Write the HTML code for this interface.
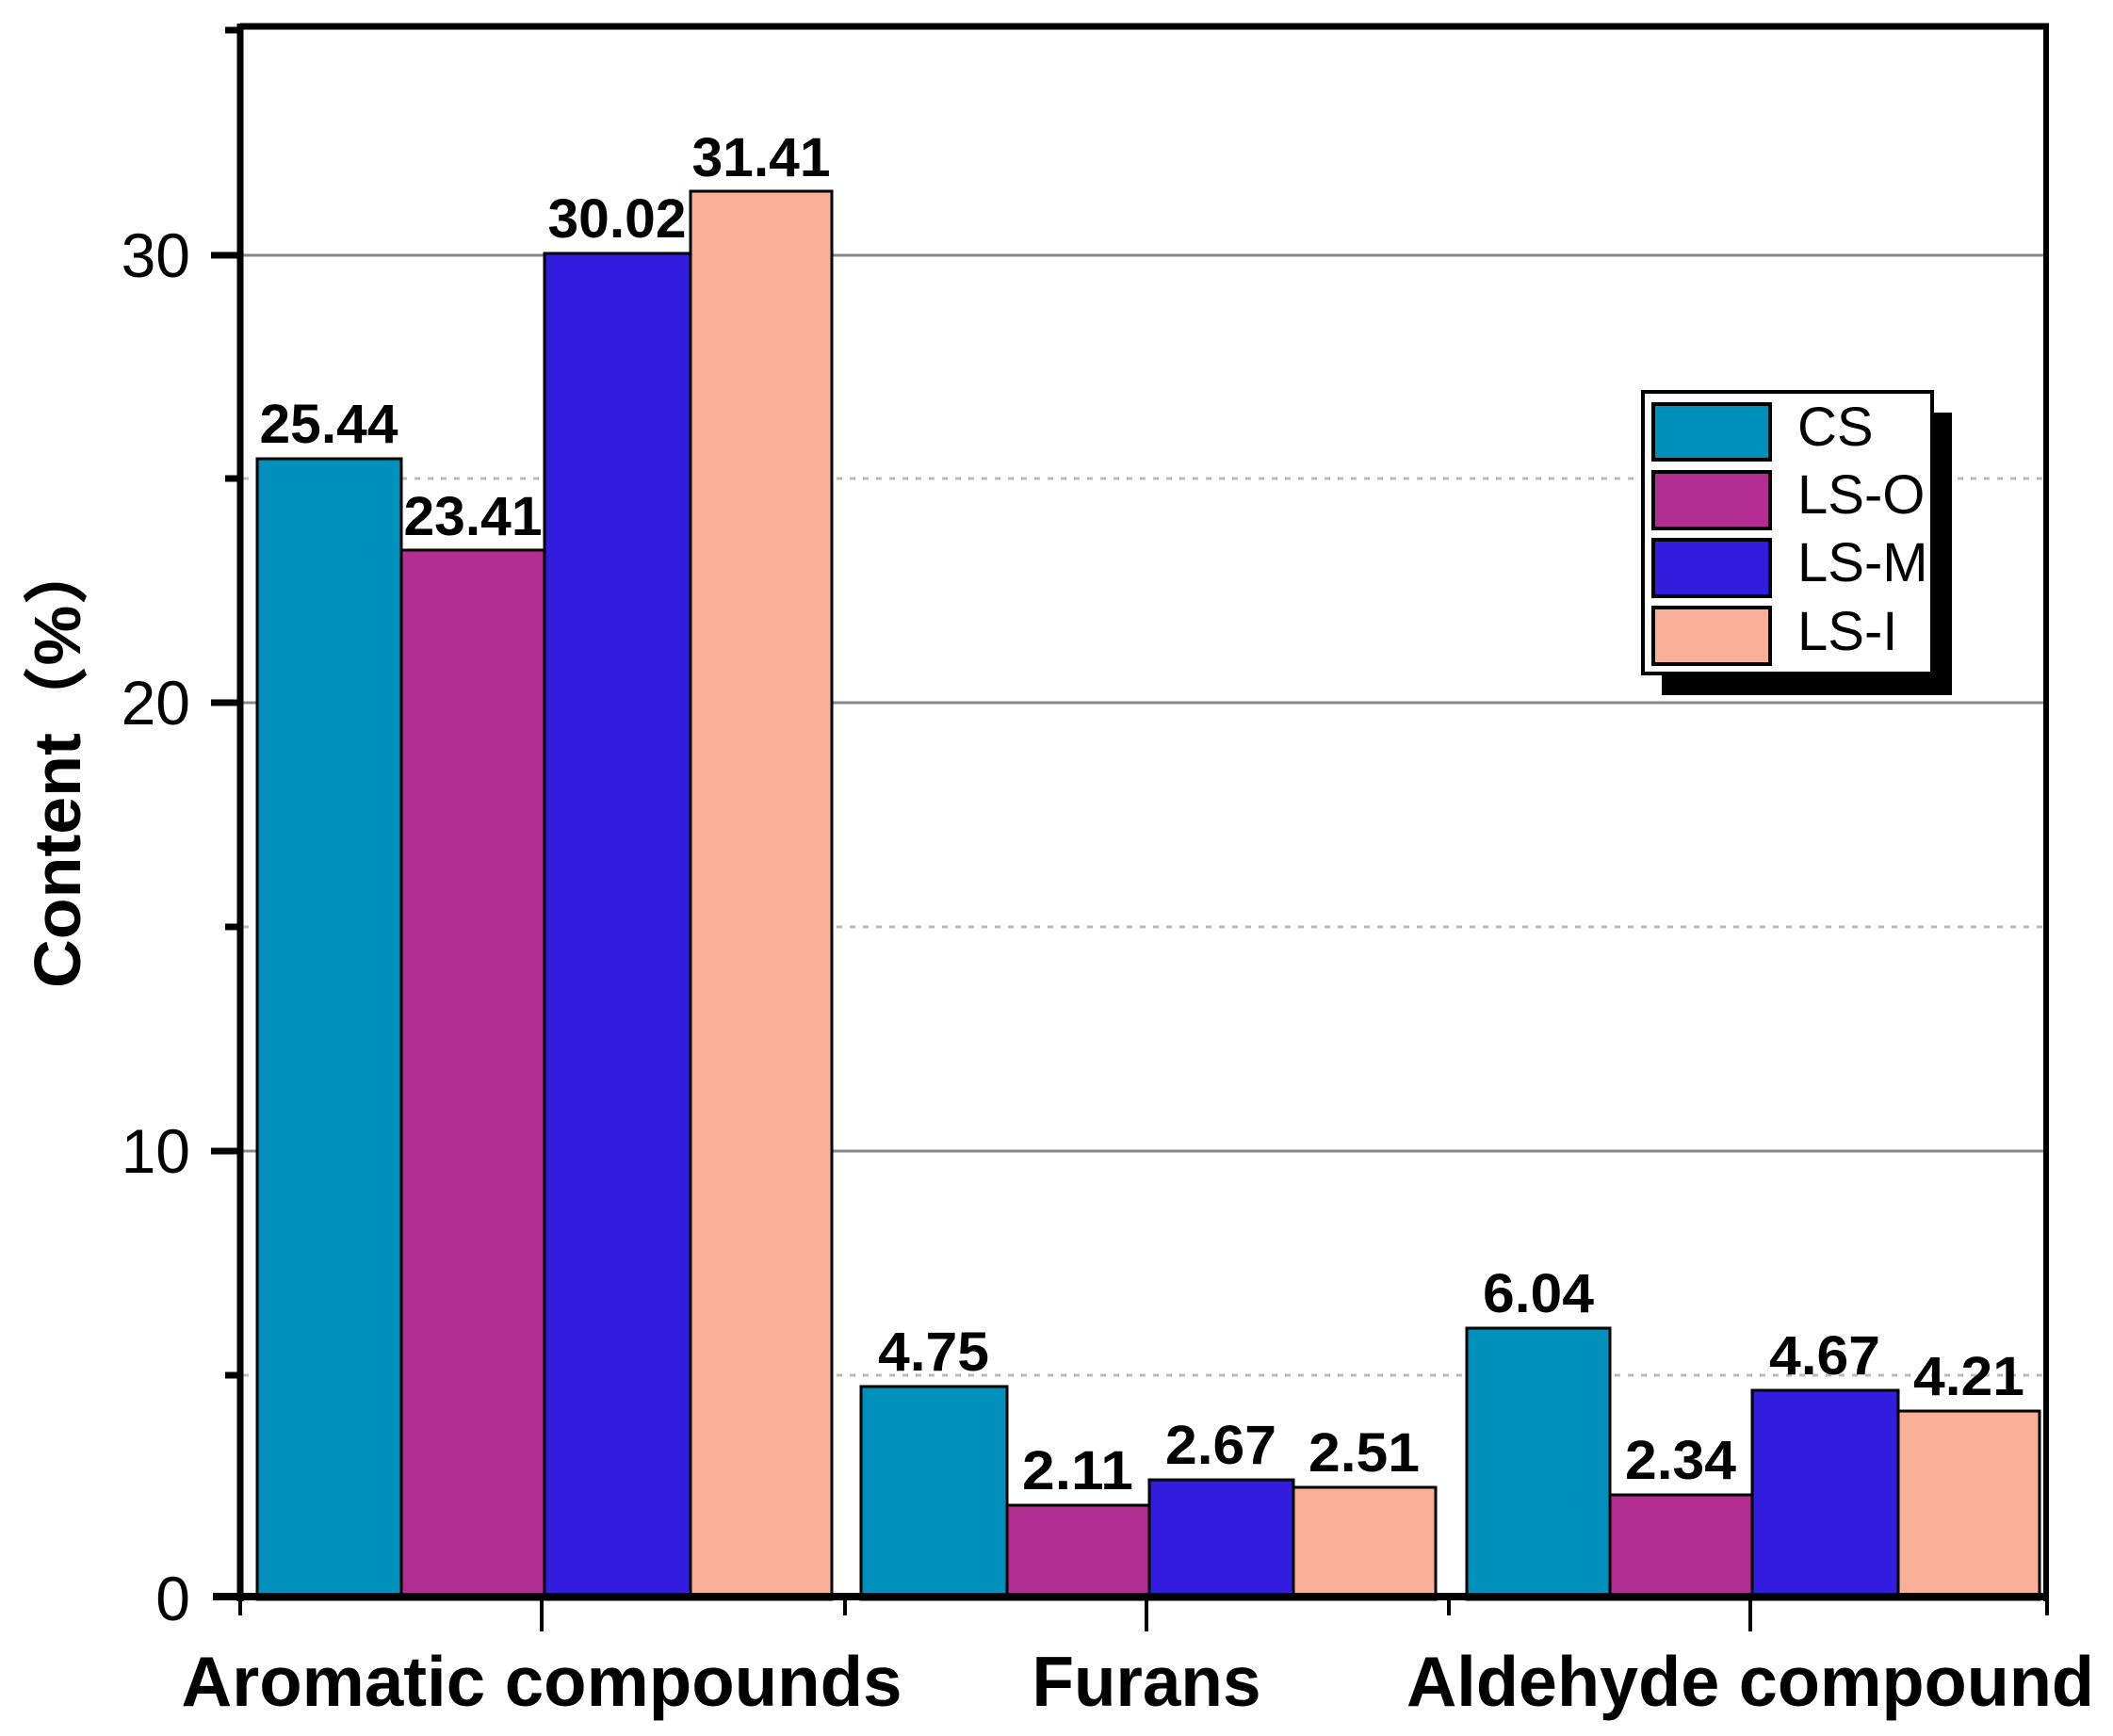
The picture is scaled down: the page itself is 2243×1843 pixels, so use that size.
<!DOCTYPE html>
<html><head><meta charset="utf-8"><style>html,body{margin:0;padding:0;background:#fff}svg{display:block}</style></head>
<body>
<svg width="2243" height="1843" viewBox="0 0 2243 1843" xmlns="http://www.w3.org/2000/svg" font-family="Liberation Sans, Arial, sans-serif">
<rect width="2243" height="1843" fill="#fff"/>
<!-- gridlines -->
<g stroke="#888" stroke-width="3">
<line x1="258" y1="271" x2="2170" y2="271"/>
<line x1="258" y1="746" x2="2170" y2="746"/>
<line x1="258" y1="1222" x2="2170" y2="1222"/>
</g>
<g stroke="#bbb" stroke-width="3" stroke-dasharray="6,8">
<line x1="258" y1="508" x2="2170" y2="508"/>
<line x1="258" y1="984" x2="2170" y2="984"/>
<line x1="258" y1="1460" x2="2170" y2="1460"/>
</g>
<!-- bars -->
<g stroke="#000" stroke-width="3">
<rect x="273" y="487" width="153" height="1211" fill="#0090BC"/>
<rect x="426" y="584" width="152" height="1114" fill="#B32C91"/>
<rect x="578" y="269" width="155" height="1429" fill="#321CDE"/>
<rect x="733" y="203" width="150" height="1495" fill="#FAAF97"/>
<rect x="914" y="1472" width="155" height="226" fill="#0090BC"/>
<rect x="1069" y="1598" width="151" height="100" fill="#B32C91"/>
<rect x="1220" y="1571" width="153" height="127" fill="#321CDE"/>
<rect x="1373" y="1579" width="151" height="119" fill="#FAAF97"/>
<rect x="1557" y="1410" width="152" height="288" fill="#0090BC"/>
<rect x="1709" y="1587" width="151" height="111" fill="#B32C91"/>
<rect x="1860" y="1476" width="155" height="222" fill="#321CDE"/>
<rect x="2015" y="1498" width="150" height="200" fill="#FAAF97"/>
</g>
<!-- value labels -->
<g font-weight="bold" font-size="58" text-anchor="middle" fill="#000">
<text x="349" y="470" textLength="147" lengthAdjust="spacingAndGlyphs">25.44</text>
<text x="502" y="568" textLength="147" lengthAdjust="spacingAndGlyphs">23.41</text>
<text x="655" y="252" textLength="147" lengthAdjust="spacingAndGlyphs">30.02</text>
<text x="808" y="187" textLength="147" lengthAdjust="spacingAndGlyphs">31.41</text>
<text x="991" y="1455" textLength="118" lengthAdjust="spacingAndGlyphs">4.75</text>
<text x="1144" y="1581" textLength="118" lengthAdjust="spacingAndGlyphs">2.11</text>
<text x="1296" y="1554" textLength="118" lengthAdjust="spacingAndGlyphs">2.67</text>
<text x="1448" y="1562" textLength="118" lengthAdjust="spacingAndGlyphs">2.51</text>
<text x="1633" y="1393" textLength="118" lengthAdjust="spacingAndGlyphs">6.04</text>
<text x="1784" y="1570" textLength="118" lengthAdjust="spacingAndGlyphs">2.34</text>
<text x="1937" y="1459" textLength="118" lengthAdjust="spacingAndGlyphs">4.67</text>
<text x="2090" y="1481" textLength="118" lengthAdjust="spacingAndGlyphs">4.21</text>
</g>
<!-- axes frame -->
<g stroke="#000" fill="none">
<line x1="255" y1="28" x2="2175" y2="28" stroke-width="7"/>
<line x1="2172" y1="25" x2="2172" y2="1700" stroke-width="6"/>
<line x1="255" y1="25" x2="255" y2="1700" stroke-width="7"/>
<line x1="226" y1="1695" x2="2175" y2="1695" stroke-width="8"/>
</g>
<!-- y ticks -->
<g stroke="#000" stroke-width="7">
<line x1="224" y1="271" x2="255" y2="271"/>
<line x1="224" y1="746" x2="255" y2="746"/>
<line x1="224" y1="1222" x2="255" y2="1222"/>
<line x1="239" y1="32" x2="255" y2="32"/>
<line x1="239" y1="508" x2="255" y2="508"/>
<line x1="239" y1="984" x2="255" y2="984"/>
<line x1="239" y1="1460" x2="255" y2="1460"/>
</g>
<!-- x ticks -->
<g stroke="#000" stroke-width="4">
<line x1="255" y1="1695" x2="255" y2="1715"/>
<line x1="897" y1="1695" x2="897" y2="1715"/>
<line x1="1538" y1="1695" x2="1538" y2="1715"/>
<line x1="2173" y1="1695" x2="2173" y2="1715"/>
<line x1="575" y1="1695" x2="575" y2="1732"/>
<line x1="1217" y1="1695" x2="1217" y2="1732"/>
<line x1="1858" y1="1695" x2="1858" y2="1732"/>
</g>
<!-- y tick labels -->
<g font-size="66" text-anchor="end" fill="#000">
<text x="202" y="294">30</text>
<text x="202" y="769">20</text>
<text x="202" y="1245">10</text>
<text x="202" y="1720">0</text>
</g>
<!-- y title -->
<text transform="translate(85,810) rotate(-90)" text-anchor="middle" font-size="70" font-weight="bold" fill="#000" textLength="478" lengthAdjust="spacingAndGlyphs" font-family="Liberation Sans, Noto Sans CJK SC, sans-serif">Content（%）</text>
<!-- category labels -->
<g font-size="75" font-weight="bold" text-anchor="middle" fill="#000">
<text x="575" y="1811" textLength="765" lengthAdjust="spacingAndGlyphs">Aromatic compounds</text>
<text x="1217" y="1811" textLength="243" lengthAdjust="spacingAndGlyphs">Furans</text>
<text x="1858" y="1811" textLength="730" lengthAdjust="spacingAndGlyphs">Aldehyde compound</text>
</g>
<!-- legend -->
<rect x="1764" y="438" width="308" height="300" fill="#000"/>
<rect x="1744" y="416" width="307" height="299" fill="#fff" stroke="#000" stroke-width="4"/>
<g stroke="#000" stroke-width="4">
<rect x="1755" y="429" width="124" height="59" fill="#0090BC"/>
<rect x="1755" y="501" width="124" height="60" fill="#B32C91"/>
<rect x="1755" y="573" width="124" height="60" fill="#321CDE"/>
<rect x="1755" y="645" width="124" height="60" fill="#FAAF97"/>
</g>
<g font-size="58" fill="#000">
<text x="1908" y="473">CS</text>
<text x="1908" y="545">LS-O</text>
<text x="1908" y="617">LS-M</text>
<text x="1908" y="690">LS-I</text>
</g>
</svg>
</body></html>
